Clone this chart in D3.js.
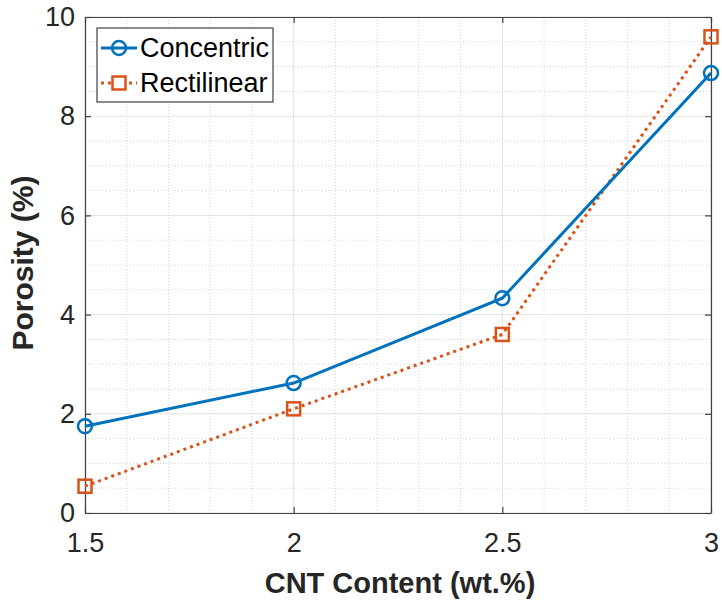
<!DOCTYPE html>
<html>
<head>
<meta charset="utf-8">
<script src="https://cdn.jsdelivr.net/npm/d3@7"></script>
<style>
  body { margin: 0; background: #fff; }
  svg { display: block; }
</style>
</head>
<body>
<div id="chart"></div>
<script>
// data
const cntContent = [1.5, 2, 2.5, 3];
const concentric = [1.75, 2.62, 4.33, 8.87];
const rectilinear = [0.54, 2.1, 3.6, 9.6];
const xTicks = [1.5, 2, 2.5, 3];
const yTicks = [0, 2, 4, 6, 8, 10];

const width = 722, height = 600;
const marginTop = 17, marginRight = 11, marginBottom = 87, marginLeft = 85;
const font = "'Liberation Sans', Arial, sans-serif";

const x = d3.scaleLinear().domain([1.5, 3]).range([marginLeft, width - marginRight]);
const y = d3.scaleLinear().domain([0, 10]).range([height - marginBottom, marginTop]);

const svg = d3.select("#chart").append("svg")
    .attr("width", width)
    .attr("height", height);

// minor grid (dotted)
const xMinor = d3.range(15, 31).map(d => d / 10).filter(d => !xTicks.includes(d));
const yMinor = d3.range(0, 21).map(d => d / 2).filter(d => !yTicks.includes(d));

svg.append("g")
    .attr("stroke", "#d4d4d4")
    .attr("stroke-width", 1)
    .attr("stroke-dasharray", "1,2")
  .call(g => g.selectAll("line.vx").data(xMinor).join("line")
      .attr("x1", d => x(d)).attr("x2", d => x(d))
      .attr("y1", y(0)).attr("y2", y(10)))
  .call(g => g.selectAll("line.hy").data(yMinor).join("line")
      .attr("y1", d => y(d)).attr("y2", d => y(d))
      .attr("x1", x(1.5)).attr("x2", x(3)));

// major grid
svg.append("g")
    .attr("stroke", "#e2e2e2")
    .attr("stroke-width", 1)
  .call(g => g.selectAll("line.gx").data(xTicks).join("line")
      .attr("x1", d => x(d)).attr("x2", d => x(d))
      .attr("y1", y(0)).attr("y2", y(10)))
  .call(g => g.selectAll("line.gy").data(yTicks).join("line")
      .attr("y1", d => y(d)).attr("y2", d => y(d))
      .attr("x1", x(1.5)).attr("x2", x(3)));

// axes, ticks pointing inward
const tickFmt = d3.format("~g");
svg.append("g")
    .attr("transform", `translate(0,${y(0)})`)
    .call(d3.axisBottom(x).tickValues(xTicks).tickFormat(tickFmt).tickSizeInner(-6).tickSizeOuter(0).tickPadding(20))
    .call(g => g.selectAll(".tick text").attr("font-size", 27).attr("font-family", font).attr("fill", "#262626"));

svg.append("g")
    .attr("transform", `translate(${x(1.5)},0)`)
    .call(d3.axisLeft(y).tickValues(yTicks).tickFormat(tickFmt).tickSizeInner(-6).tickSizeOuter(0).tickPadding(10))
    .call(g => g.selectAll(".tick text").attr("font-size", 27).attr("font-family", font).attr("fill", "#262626"));

svg.append("g")
    .attr("transform", `translate(0,${y(10)})`)
    .call(d3.axisTop(x).tickValues(xTicks).tickFormat("").tickSizeInner(-6).tickSizeOuter(0));

svg.append("g")
    .attr("transform", `translate(${x(3)},0)`)
    .call(d3.axisRight(y).tickValues(yTicks).tickFormat("").tickSizeInner(-6).tickSizeOuter(0));

svg.selectAll(".domain, .tick line").attr("stroke", "#404040").attr("stroke-width", 1.2);

// axis labels
svg.append("text")
    .attr("x", 400)
    .attr("y", 593)
    .attr("text-anchor", "middle")
    .attr("font-family", font)
    .attr("font-weight", "bold")
    .attr("font-size", 29)
    .attr("fill", "#262626")
    .text("CNT Content (wt.%)");

svg.append("text")
    .attr("transform", `translate(33,263) rotate(-90)`)
    .attr("text-anchor", "middle")
    .attr("font-family", font)
    .attr("font-weight", "bold")
    .attr("font-size", 30)
    .attr("fill", "#262626")
    .text("Porosity (%)");

const blue = "#0072BD", orange = "#D95319";
const line = d3.line().x(d => x(d[0])).y(d => y(d[1]));
const concPts = cntContent.map((c, i) => [c, concentric[i]]);
const rectPts = cntContent.map((c, i) => [c, rectilinear[i]]);

// rectilinear series (dotted, squares)
svg.append("path")
    .datum(rectPts)
    .attr("fill", "none")
    .attr("stroke", orange)
    .attr("stroke-width", 3)
    .attr("stroke-dasharray", "3,4")
    .attr("d", line);

svg.append("g")
    .selectAll("rect")
    .data(rectPts)
    .join("rect")
      .attr("x", d => x(d[0]) - 6.5)
      .attr("y", d => y(d[1]) - 6.5)
      .attr("width", 13)
      .attr("height", 13)
      .attr("fill", "none")
      .attr("stroke", orange)
      .attr("stroke-width", 2.5);

// concentric series (solid, circles)
svg.append("path")
    .datum(concPts)
    .attr("fill", "none")
    .attr("stroke", blue)
    .attr("stroke-width", 3)
    .attr("d", line);

svg.append("g")
    .selectAll("circle")
    .data(concPts)
    .join("circle")
      .attr("cx", d => x(d[0]))
      .attr("cy", d => y(d[1]))
      .attr("r", 7)
      .attr("fill", "none")
      .attr("stroke", blue)
      .attr("stroke-width", 2.5);

// legend
const legend = svg.append("g").attr("transform", "translate(97,28)");
legend.append("rect")
    .attr("width", 176)
    .attr("height", 74)
    .attr("fill", "#fff")
    .attr("stroke", "#404040")
    .attr("stroke-width", 1.2);

const lg1 = legend.append("g").attr("transform", "translate(0,20)");
lg1.append("line").attr("x1", 4).attr("x2", 40).attr("stroke", blue).attr("stroke-width", 3);
lg1.append("circle").attr("cx", 22).attr("r", 7).attr("fill", "none").attr("stroke", blue).attr("stroke-width", 2.5);
lg1.append("text").attr("x", 43).attr("dy", "0.35em").attr("font-family", font).attr("font-size", 27).attr("fill", "#000").text("Concentric");

const lg2 = legend.append("g").attr("transform", "translate(0,55)");
lg2.append("line").attr("x1", 4).attr("x2", 40).attr("stroke", orange).attr("stroke-width", 3).attr("stroke-dasharray", "3,4");
lg2.append("rect").attr("x", 15.5).attr("y", -6.5).attr("width", 13).attr("height", 13).attr("fill", "#fff").attr("stroke", orange).attr("stroke-width", 2.5);
lg2.append("text").attr("x", 43).attr("dy", "0.35em").attr("font-family", font).attr("font-size", 27).attr("fill", "#000").text("Rectilinear");
</script>
</body>
</html>
